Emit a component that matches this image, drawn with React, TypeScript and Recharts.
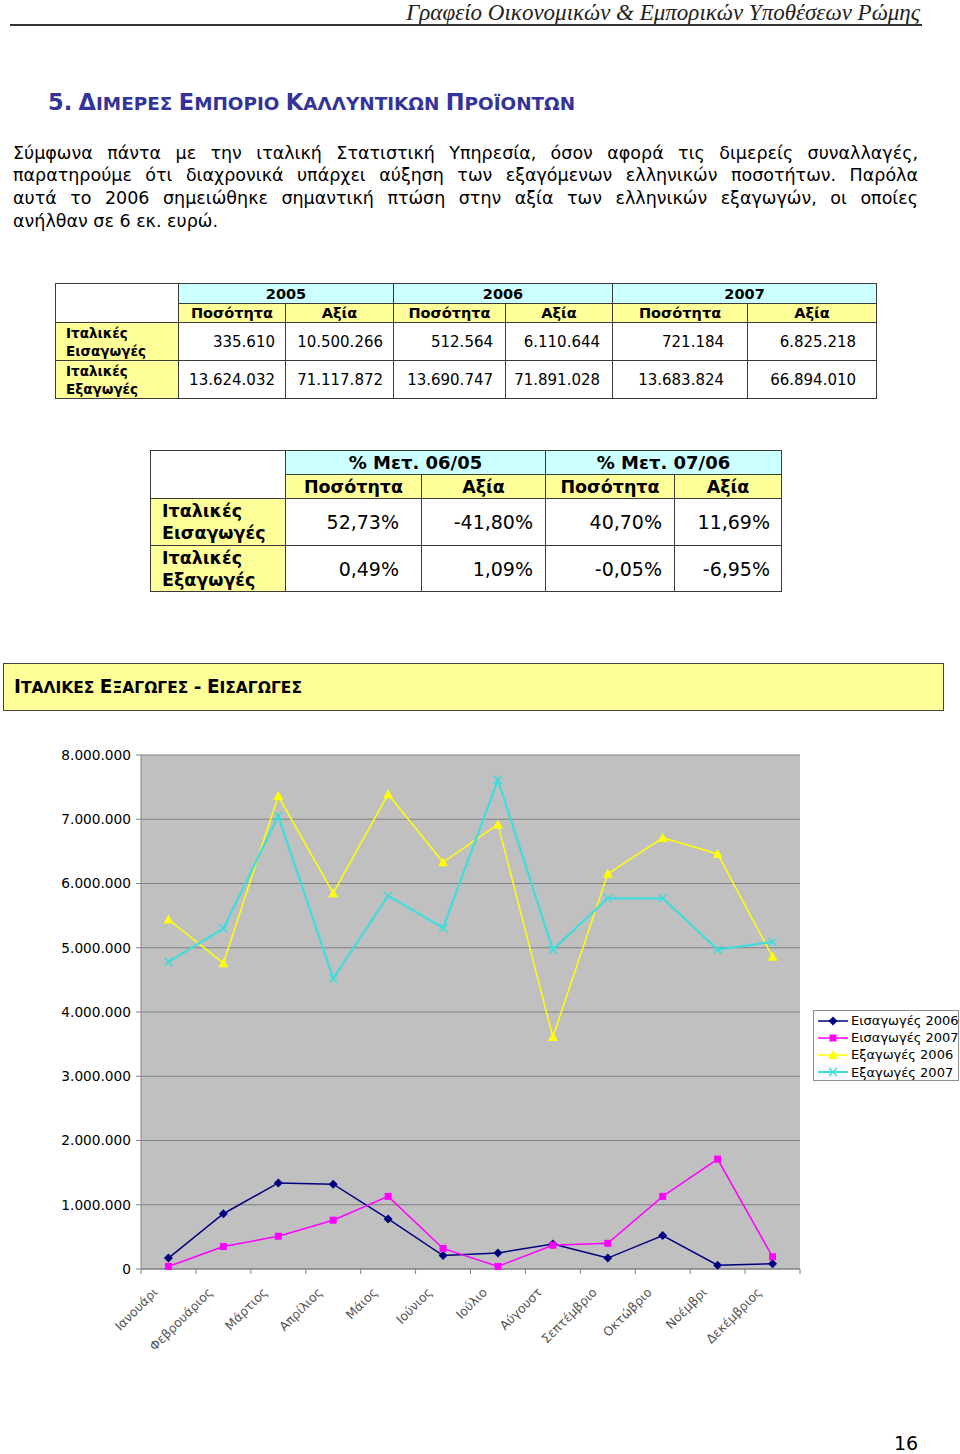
import React from 'react';
import { LineChart, Line, XAxis, YAxis, CartesianGrid, Legend } from 'recharts';

// ---------- DATA ----------
const months = [
  'Ιανουάρι', 'Φεβρουάριος', 'Μάρτιος', 'Απρίλιος', 'Μάιος', 'Ιούνιος',
  'Ιούλιο', 'Αύγουστ', 'Σεπτέμβριο', 'Οκτώβριο', 'Νοέμβρι', 'Δεκέμβριος',
];
const imports2006 = [170000, 860000, 1340000, 1320000, 780000, 210000, 250000, 390000, 170000, 520000, 60000, 80000];
const imports2007 = [40000, 350000, 510000, 760000, 1130000, 320000, 40000, 370000, 400000, 1130000, 1710000, 190000];
const exports2006 = [5440000, 4760000, 7360000, 5850000, 7390000, 6330000, 6920000, 3610000, 6150000, 6710000, 6460000, 4860000];
const exports2007 = [4780000, 5300000, 7050000, 4520000, 5810000, 5310000, 7610000, 4970000, 5770000, 5770000, 4970000, 5090000];
const yTicks = [0, 1000000, 2000000, 3000000, 4000000, 5000000, 6000000, 7000000, 8000000];

const seriesNames = ['Εισαγωγές 2006', 'Εισαγωγές 2007', 'Εξαγωγές 2006', 'Εξαγωγές 2007'];

const headerText = 'Γραφείο Οικονομικών & Εμπορικών Υποθέσεων Ρώμης';
const paragraphLines = [
  'Σύμφωνα πάντα με την ιταλική Στατιστική Υπηρεσία, όσον αφορά τις διμερείς συναλλαγές,',
  'παρατηρούμε ότι διαχρονικά υπάρχει αύξηση των εξαγόμενων ελληνικών ποσοτήτων. Παρόλα',
  'αυτά το 2006 σημειώθηκε σημαντική πτώση στην αξία των ελληνικών εξαγωγών, οι οποίες',
  'ανήλθαν σε 6 εκ. ευρώ.',
];

const t1Years = ['2005', '2006', '2007'];
const t1SubHeaders = ['Ποσότητα', 'Αξία'];
const rowLabels = [['Ιταλικές', 'Εισαγωγές'], ['Ιταλικές', 'Εξαγωγές']];
const t1Imports = ['335.610', '10.500.266', '512.564', '6.110.644', '721.184', '6.825.218'];
const t1Exports = ['13.624.032', '71.117.872', '13.690.747', '71.891.028', '13.683.824', '66.894.010'];

const t2Periods = ['% Μετ. 06/05', '% Μετ. 07/06'];
const t2Imports = ['52,73%', '-41,80%', '40,70%', '11,69%'];
const t2Exports = ['0,49%', '1,09%', '-0,05%', '-6,95%'];

// ---------- LAYOUT ----------
const PLOT_LEFT = 141;
const PLOT_RIGHT = 800;
const HALF_BAND = (PLOT_RIGHT - PLOT_LEFT) / months.length / 2;

const chartData = months.map((m, i) => ({
  month: m,
  imp06: imports2006[i],
  imp07: imports2007[i],
  exp06: exports2006[i],
  exp07: exports2007[i],
}));

const fmt = (v: number) => String(v).replace(/\B(?=(\d{3})+(?!\d))/g, '.');

type MarkerType = 'diamond' | 'square' | 'triangle' | 'x';
const seriesMeta: { key: string; color: string; marker: MarkerType; width: number }[] = [
  { key: 'imp06', color: '#000080', marker: 'diamond', width: 1.5 },
  { key: 'imp07', color: '#FF00FF', marker: 'square', width: 1.5 },
  { key: 'exp06', color: '#FFFF00', marker: 'triangle', width: 1.5 },
  { key: 'exp07', color: '#40DCDC', marker: 'x', width: 2.2 },
];

function drawMarker(type: MarkerType, cx: number, cy: number, color: string, key?: string) {
  if (type === 'diamond') {
    return <path key={key} d={`M${cx},${cy - 4.5}L${cx + 4.5},${cy}L${cx},${cy + 4.5}L${cx - 4.5},${cy}Z`} fill={color} />;
  }
  if (type === 'square') {
    return <rect key={key} x={cx - 3.5} y={cy - 3.5} width={7} height={7} fill={color} />;
  }
  if (type === 'triangle') {
    return <path key={key} d={`M${cx},${cy - 5}L${cx + 5},${cy + 4}L${cx - 5},${cy + 4}Z`} fill={color} />;
  }
  return (
    <g key={key}>
      <line x1={cx - 4} y1={cy - 4} x2={cx + 4} y2={cy + 4} stroke={color} strokeWidth={1.6} />
      <line x1={cx - 4} y1={cy + 4} x2={cx + 4} y2={cy - 4} stroke={color} strokeWidth={1.6} />
    </g>
  );
}

const MonthTick = (props: any) => {
  const { x, y, payload, index } = props;
  const axisY = y - 5;
  const isLast = index === months.length - 1;
  const tx = x - 10;
  const ty = axisY + 24;
  return (
    <g>
      <line x1={x - HALF_BAND} y1={axisY} x2={x - HALF_BAND} y2={axisY + 5} stroke="#808080" />
      {isLast && <line x1={x + HALF_BAND} y1={axisY} x2={x + HALF_BAND} y2={axisY + 5} stroke="#808080" />}
      <text x={tx} y={ty} textAnchor="end" transform={`rotate(-45 ${tx} ${ty})`} fontSize={12.5} fill="#555" fontFamily="DejaVu Sans">
        {payload.value}
      </text>
    </g>
  );
};

const LegendBox = () => (
  <div
    style={{
      background: '#fff',
      border: '1px solid #909090',
      width: 146,
      height: 71,
      boxSizing: 'border-box',
      padding: '1px 0 0 3px',
      fontFamily: 'DejaVu Sans',
      fontSize: 13,
      color: '#000',
      textAlign: 'left',
    }}
  >
    {seriesMeta.map((s, i) => (
      <div key={s.key} style={{ display: 'flex', alignItems: 'center', height: 17.2, whiteSpace: 'nowrap' }}>
        <svg width={33} height={12} style={{ flex: 'none' }}>
          <line x1={1} y1={6} x2={31} y2={6} stroke={s.color} strokeWidth={s.width} />
          {drawMarker(s.marker, 16, 6, s.color)}
        </svg>
        <span style={{ marginLeft: 1 }}>{seriesNames[i]}</span>
      </div>
    ))}
  </div>
);

// ---------- TABLES ----------
const border = '1px solid #3a3a3a';
const cyan = '#CCFFFF';
const yellow = '#FFFF99';

const Table1 = () => {
  const colW = [123, 107, 108, 112, 107, 135, 129];
  const padR = [10, 10, 12, 12, 23, 20];
  const cellBase: React.CSSProperties = { border, padding: 0, fontFamily: 'DejaVu Sans' };
  return (
    <table
      style={{
        position: 'absolute', left: 55, top: 283, borderCollapse: 'collapse', tableLayout: 'fixed',
        width: colW.reduce((a, b) => a + b, 0), border: '1.5px solid #222',
      }}
    >
      <colgroup>{colW.map((w, i) => <col key={i} style={{ width: w }} />)}</colgroup>
      <tbody>
        <tr style={{ height: 20 }}>
          <td rowSpan={2} style={{ ...cellBase, background: '#fff' }} />
          {t1Years.map((y) => (
            <td key={y} colSpan={2} style={{ ...cellBase, background: cyan, textAlign: 'center', fontWeight: 'bold', fontSize: 14.5 }}>{y}</td>
          ))}
        </tr>
        <tr style={{ height: 19 }}>
          {t1Years.flatMap((y) => t1SubHeaders.map((h) => (
            <td key={y + h} style={{ ...cellBase, background: yellow, textAlign: 'center', fontWeight: 'bold', fontSize: 14.5 }}>{h}</td>
          )))}
        </tr>
        {[t1Imports, t1Exports].map((row, ri) => (
          <tr key={ri} style={{ height: 38 }}>
            <td style={{ ...cellBase, background: yellow, fontWeight: 'bold', fontSize: 13.5, lineHeight: '18px', paddingLeft: 10 }}>
              {rowLabels[ri][0]}<br />{rowLabels[ri][1]}
            </td>
            {row.map((v, ci) => (
              <td key={ci} style={{ ...cellBase, background: '#fff', textAlign: 'right', fontSize: 15, paddingRight: padR[ci] }}>{v}</td>
            ))}
          </tr>
        ))}
      </tbody>
    </table>
  );
};

const Table2 = () => {
  const colW = [135, 136, 124, 129, 107];
  const padR = [22, 12, 12, 11];
  const cellBase: React.CSSProperties = { border, padding: 0, fontFamily: 'DejaVu Sans' };
  return (
    <table
      style={{
        position: 'absolute', left: 150, top: 450, borderCollapse: 'collapse', tableLayout: 'fixed',
        width: colW.reduce((a, b) => a + b, 0), border: '1.5px solid #222',
      }}
    >
      <colgroup>{colW.map((w, i) => <col key={i} style={{ width: w }} />)}</colgroup>
      <tbody>
        <tr style={{ height: 24 }}>
          <td rowSpan={2} style={{ ...cellBase, background: '#fff' }} />
          {t2Periods.map((p) => (
            <td key={p} colSpan={2} style={{ ...cellBase, background: cyan, textAlign: 'center', fontWeight: 'bold', fontSize: 18 }}>{p}</td>
          ))}
        </tr>
        <tr style={{ height: 24 }}>
          {t2Periods.flatMap((p) => t1SubHeaders.map((h) => (
            <td key={p + h} style={{ ...cellBase, background: yellow, textAlign: 'center', fontWeight: 'bold', fontSize: 17.5 }}>{h}</td>
          )))}
        </tr>
        {[t2Imports, t2Exports].map((row, ri) => (
          <tr key={ri} style={{ height: ri === 0 ? 47 : 46 }}>
            <td style={{ ...cellBase, background: yellow, fontWeight: 'bold', fontSize: 17.5, lineHeight: '22px', paddingLeft: 11 }}>
              {rowLabels[ri][0]}<br />{rowLabels[ri][1]}
            </td>
            {row.map((v, ci) => (
              <td key={ci} style={{ ...cellBase, background: '#fff', textAlign: 'right', fontSize: 19, paddingRight: padR[ci] }}>{v}</td>
            ))}
          </tr>
        ))}
      </tbody>
    </table>
  );
};

// small caps helper: first letters of each word larger
const SmallCaps = ({ text, big, small }: { text: string; big: number; small: number }) => (
  <>
    {text.split(' ').map((w, i) => (
      <React.Fragment key={i}>
        {i > 0 && <span style={{ fontSize: small }}> </span>}
        <span style={{ fontSize: big }}>{w.slice(0, w.startsWith('5.') ? 2 : 1)}</span>
        <span style={{ fontSize: small }}>{w.slice(w.startsWith('5.') ? 2 : 1)}</span>
      </React.Fragment>
    ))}
  </>
);

export default function App() {
  return (
    <div style={{ position: 'absolute', left: 0, top: 0, width: 960, height: 1454, background: '#fff', overflow: 'hidden', fontFamily: 'DejaVu Sans' }}>
      {/* header */}
      <div style={{ position: 'absolute', right: 40, top: 1, fontFamily: 'Liberation Serif', fontStyle: 'italic', fontSize: 23, lineHeight: '24px', color: '#222', whiteSpace: 'nowrap' }}>
        {headerText}
      </div>
      <div style={{ position: 'absolute', left: 10, top: 24, width: 912, height: 2, background: '#333' }} />

      {/* section title */}
      <div style={{ position: 'absolute', left: 48, top: 88, color: '#333399', fontWeight: 'bold', whiteSpace: 'nowrap', lineHeight: '28px' }}>
        <SmallCaps text="5. ΔΙΜΕΡΕΣ ΕΜΠΟΡΙΟ ΚΑΛΛΥΝΤΙΚΩΝ ΠΡΟΪΟΝΤΩΝ" big={22.5} small={18.4} />
      </div>

      {/* paragraph */}
      <div style={{ position: 'absolute', left: 13, top: 141.5, width: 905, fontSize: 17.5, lineHeight: '22.7px', color: '#000' }}>
        {paragraphLines.map((l, i) => (
          <div key={i} style={{ whiteSpace: 'nowrap', textAlign: i < paragraphLines.length - 1 ? 'justify' : 'left', textAlignLast: i < paragraphLines.length - 1 ? 'justify' : 'left' }}>
            {l}
          </div>
        ))}
      </div>

      <Table1 />
      <Table2 />

      {/* banner */}
      <div style={{ position: 'absolute', left: 3, top: 663, width: 941, height: 48, boxSizing: 'border-box', background: yellow, border: '1.5px solid #444' }}>
        <div style={{ position: 'absolute', left: 10, top: 11, fontWeight: 'bold', whiteSpace: 'nowrap', lineHeight: '24px', color: '#000' }}>
          <SmallCaps text="ΙΤΑΛΙΚΕΣ ΕΞΑΓΩΓΕΣ - ΕΙΣΑΓΩΓΕΣ" big={18.5} small={15.5} />
        </div>
      </div>

      {/* chart */}
      <div style={{ position: 'absolute', left: 0, top: 740 }}>
        <LineChart width={960} height={620} data={chartData} margin={{ top: 15, right: 160, bottom: 11, left: 0 }}>
          <CartesianGrid vertical={false} stroke="#808080" fill="#C0C0C0" fillOpacity={1} />
          <XAxis
            dataKey="month"
            interval={0}
            height={80}
            padding={{ left: HALF_BAND, right: HALF_BAND }}
            axisLine={{ stroke: '#808080' }}
            tickLine={false}
            tickSize={5}
            tickMargin={0}
            tick={<MonthTick />}
          />
          <YAxis
            width={141}
            domain={[0, 8000000]}
            ticks={yTicks}
            tickFormatter={fmt}
            axisLine={{ stroke: '#808080' }}
            tickLine={{ stroke: '#808080' }}
            tickSize={5}
            tickMargin={5}
            tick={{ fontSize: 13.7, fill: '#000', fontFamily: 'DejaVu Sans' }}
          />
          <YAxis yAxisId="right" orientation="right" width={0} tick={false} tickLine={false} axisLine={{ stroke: '#808080' }} domain={[0, 1]} />
          <Legend
            layout="horizontal"
            verticalAlign="middle"
            align="center"
            content={<LegendBox />}
            wrapperStyle={{ left: 813, top: 270, width: 146, height: 71 }}
          />
          {seriesMeta.map((s, i) => (
            <Line
              key={s.key}
              type="linear"
              dataKey={s.key}
              name={seriesNames[i]}
              stroke={s.color}
              strokeWidth={s.width}
              isAnimationActive={false}
              dot={(p: any) => drawMarker(s.marker, p.cx, p.cy, s.color, `${s.key}-${p.index}`)}
              activeDot={false}
            />
          ))}
        </LineChart>
      </div>

      {/* page number */}
      <div style={{ position: 'absolute', left: 894, top: 1433, fontSize: 19, lineHeight: '21px' }}>16</div>
    </div>
  );
}
